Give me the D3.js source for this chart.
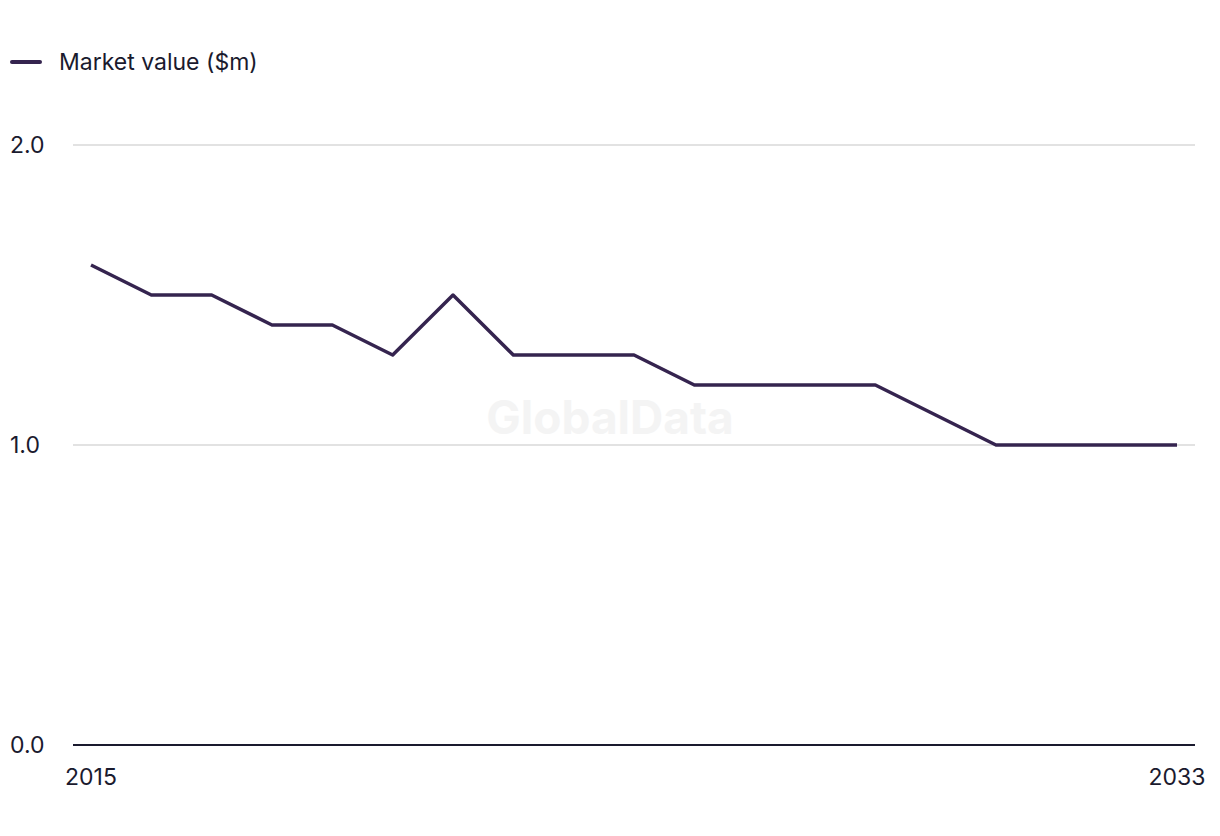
<!DOCTYPE html>
<html>
<head>
<meta charset="utf-8">
<script src="https://cdn.jsdelivr.net/npm/d3@7"></script>
<style>
  html, body { margin: 0; padding: 0; background: #fff; }
  svg { display: block; font-family: "Inter", "Liberation Sans", sans-serif; }
</style>
</head>
<body>
<svg id="chart" width="1220" height="836"></svg>
<script>
const years = [2015,2016,2017,2018,2019,2020,2021,2022,2023,2024,2025,2026,2027,2028,2029,2030,2031,2032,2033];
const marketValue = [1.6,1.5,1.5,1.4,1.4,1.3,1.5,1.3,1.3,1.3,1.2,1.2,1.2,1.2,1.1,1.0,1.0,1.0,1.0];
const yTicks = [0, 1, 2];
const xTickLabels = [2015, 2033];
const seriesName = "Market value ($m)";

const svg = d3.select("#chart");
const lineColor = "#35244f";
const textColor = "#1a1a2e";
const fs = 23;

const x = d3.scaleLinear().domain([2015, 2033]).range([91, 1177]);
const y = d3.scaleLinear().domain([0, 2]).range([745, 145]);
const plotLeft = 73, plotRight = 1195;

// gridlines
svg.append("g").selectAll("line")
  .data(yTicks.filter(d => d !== 0))
  .join("line")
  .attr("x1", plotLeft).attr("x2", plotRight)
  .attr("y1", d => y(d)).attr("y2", d => y(d))
  .attr("stroke", "#d9d9d9").attr("stroke-width", 1.5);

// y labels
svg.append("g").selectAll("text")
  .data(yTicks)
  .join("text")
  .attr("x", 10).attr("y", d => y(d))
  .attr("dy", "0.35em")
  .attr("font-size", fs)
  .attr("fill", textColor)
  .text(d => d3.format(".1f")(d));

// x axis baseline
svg.append("line")
  .attr("x1", plotLeft).attr("x2", plotRight)
  .attr("y1", y(0)).attr("y2", y(0))
  .attr("stroke", "#1a1a2e").attr("stroke-width", 2);

// x labels
svg.append("g").selectAll("text")
  .data(xTickLabels)
  .join("text")
  .attr("x", d => x(d)).attr("y", 777)
  .attr("dy", "0.35em")
  .attr("text-anchor", "middle")
  .attr("font-size", fs)
  .attr("fill", textColor)
  .text(d => d);

// watermark
svg.append("text")
  .attr("x", 610).attr("y", 418)
  .attr("dy", "0.35em")
  .attr("text-anchor", "middle")
  .attr("font-size", 46).attr("font-weight", "bold")
  .attr("fill", "#f4f4f4")
  .text("GlobalData");

// line
const line = d3.line()
  .x((d, i) => x(years[i]))
  .y(d => y(d));
svg.append("path")
  .datum(marketValue)
  .attr("d", line)
  .attr("fill", "none")
  .attr("stroke", lineColor)
  .attr("stroke-width", 3.5)
  .attr("stroke-linejoin", "round");

// legend
svg.append("line")
  .attr("x1", 12).attr("x2", 40).attr("y1", 62).attr("y2", 62)
  .attr("stroke", lineColor).attr("stroke-width", 4).attr("stroke-linecap", "round");
svg.append("text")
  .attr("x", 59).attr("y", 62).attr("dy", "0.35em")
  .attr("font-size", fs).attr("fill", textColor)
  .text(seriesName);
</script>
</body>
</html>
